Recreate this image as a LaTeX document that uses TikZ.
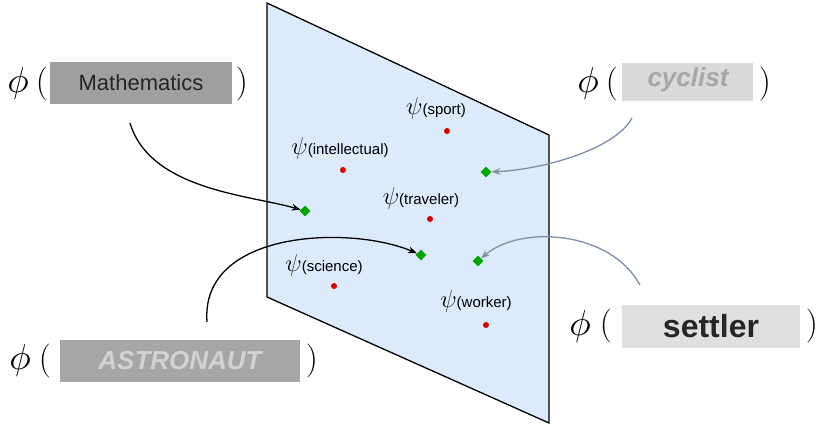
\documentclass[tikz,border=0pt]{standalone}
\usepackage{fontspec}
\setmainfont{Liberation Sans}
\newfontfamily\lmr{Latin Modern Roman}
\usetikzlibrary{arrows.meta,shapes.geometric}
\definecolor{plane}{HTML}{DCEAFB}
\definecolor{garrow}{HTML}{7F8FA8}
\newcommand{\bigphi}{\scalebox{3.6}{$\phi$}}
\newcommand{\mypsi}{\scalebox{1.7}{$\psi$}}
\begin{document}
\begin{tikzpicture}[x=1pt,y=-1pt,
  red/.style={circle,fill=red!85!black,inner sep=0pt,minimum size=6pt},
  grn/.style={diamond,fill=green!65!black,inner sep=0pt,minimum size=11pt},
  lab/.style={font=\fontsize{15}{15}\selectfont,inner sep=0pt},
  big/.style={font=\lmr\fontsize{34}{34}\selectfont,inner sep=0pt},
  blk/.style={-{Stealth[length=9pt]},line width=1.3pt},
  gry/.style={-{Stealth[length=9pt]},line width=1.3pt,draw=garrow}]
\useasboundingbox (0,0) rectangle (822,438);
\filldraw[fill=plane,draw=black,line width=1.3pt] (267,3) -- (549,135) -- (549,423) -- (267,297) -- cycle;
\node[red] (s) at (447,131) {};
\node[red] (i) at (343,170) {};
\node[red] (t) at (430,219) {};
\node[red] (c) at (334,286) {};
\node[red] (w) at (486,325) {};
\node[lab] at (436,108) {\mypsi(sport)};
\node[lab] at (340,148) {\mypsi(intellectual)};
\node[lab] at (421,198) {\mypsi(traveler)};
\node[lab] at (324,265) {\mypsi(science)};
\node[lab] at (476,301) {\mypsi(worker)};
\node[grn] (g1) at (305,211) {};
\node[grn] (g2) at (486,172) {};
\node[grn] (g3) at (421,255) {};
\node[grn] (g4) at (478,261) {};
% Mathematics
\node[inner sep=0pt] at (18,84) {\bigphi};
\node[big] at (42,84) {(};
\fill[gray!75] (50,62) rectangle (232,104);
\node[font=\fontsize{22}{22}\selectfont,text=black!85] at (141,83) {Mathematics};
\node[big] at (242,84) {)};
% cyclist
\node[inner sep=0pt] at (588,84) {\bigphi};
\node[big] at (612,84) {(};
\fill[gray!30] (622,63) rectangle (753,101);
\node[font=\fontsize{26}{26}\selectfont\itshape\bfseries,text=gray!70] at (688,80) {cyclist};
\node[big] at (765,84) {)};
% settler
\node[inner sep=0pt] at (580,326) {\bigphi};
\node[big] at (606,326) {(};
\fill[gray!25] (622,305) rectangle (800,348);
\node[font=\fontsize{32}{32}\selectfont\bfseries,text=black!85] at (711,326) {settler};
\node[big] at (812,326) {)};
% astronaut
\node[inner sep=0pt] at (20,361) {\bigphi};
\node[big] at (45,361) {(};
\fill[gray!70] (60,340) rectangle (300,382);
\node[font=\fontsize{26}{26}\selectfont\bfseries\itshape,text=gray!35] at (180,361) {ASTRONAUT};
\node[big] at (312,361) {)};
% arrows
\coordinate (a1) at (130,123);
\coordinate (a2) at (632,118);
\coordinate (a3) at (207,322);
\coordinate (a4) at (640,285);
\draw[blk] (a1) .. controls (150,190) and (250,195) .. (g1);
\draw[gry] (a2) .. controls (615,150) and (540,170) .. (g2);
\draw[blk] (a3) .. controls (200,230) and (350,225) .. (g3);
\draw[gry] (a4) .. controls (610,230) and (520,225) .. (g4);
\end{tikzpicture}
\end{document}
